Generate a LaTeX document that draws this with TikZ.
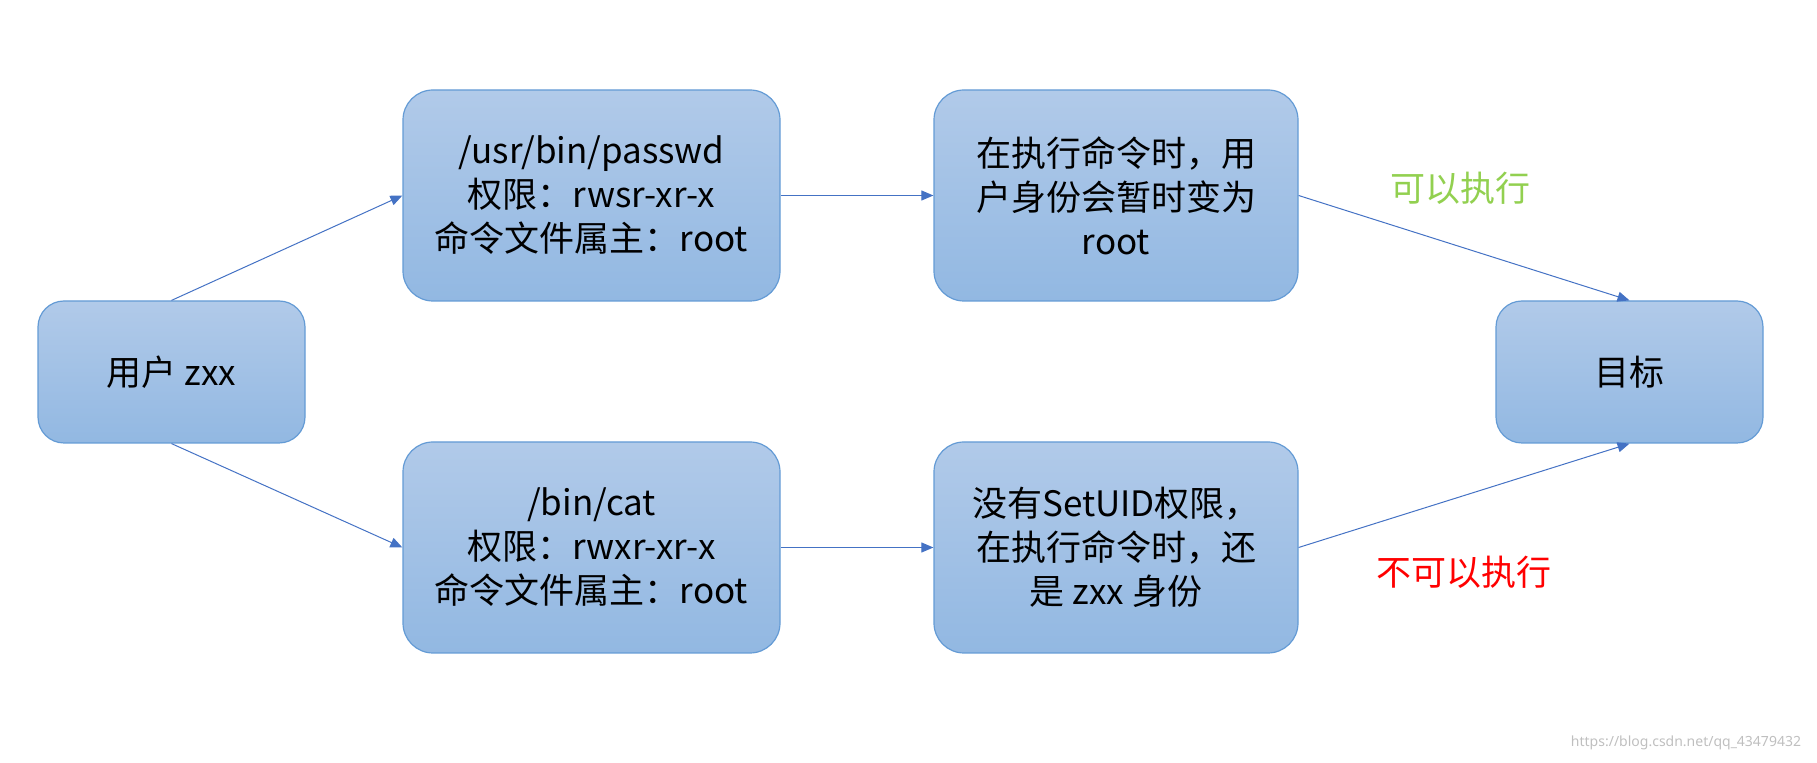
\documentclass[tikz,border=0pt]{standalone}
\usepackage{fontspec}
\setmainfont{Noto Sans CJK SC}
\usetikzlibrary{arrows.meta}
\definecolor{boxtop}{RGB}{177,202,233}
\definecolor{boxbot}{RGB}{146,184,226}
\definecolor{boxline}{RGB}{100,155,213}
\definecolor{arrowc}{RGB}{68,114,196}
\definecolor{okgreen}{RGB}{146,208,80}
\tikzset{
  box/.style={draw=boxline, line width=0.6pt, rounded corners=15pt, top color=boxtop, bottom color=boxbot,
    align=center, font=\fontsize{17.5}{22}\selectfont, inner sep=0pt},
  bigbox/.style={box, minimum width=188.5pt, minimum height=105.5pt},
  midbox/.style={box, minimum width=182pt, minimum height=105.5pt},
  smallbox/.style={box, minimum width=133.5pt, minimum height=71pt, rounded corners=13pt},
  conn/.style={draw=arrowc, line width=0.5pt, -{Triangle[length=6pt,width=5pt]}},
  lbl/.style={font=\fontsize{17.5}{22}\selectfont, inner sep=0pt}
}
\begin{document}
\begin{tikzpicture}[x=0.5pt,y=-0.5pt]
\useasboundingbox (0,0) rectangle (1817,763);
\node[smallbox] (user) at (171.5,372) {用户 zxx};
\node[bigbox] (passwd) at (591.5,195.5) {/usr/bin/passwd\\权限：rwsr-xr-x\\命令文件属主：root};
\node[bigbox] (cat) at (591.5,547.5) {/bin/cat\\权限：rwxr-xr-x\\命令文件属主：root};
\node[midbox] (exec1) at (1116,195.5) {在执行命令时，用\\户身份会暂时变为\\root};
\node[midbox] (exec2) at (1116,547.5) {没有SetUID权限，\\在执行命令时，还\\是 zxx 身份};
\node[smallbox] (target) at (1629.5,372) {目标};
\draw[conn] (user.north) -- (passwd.west);
\draw[conn] (user.south) -- (cat.west);
\draw[conn] (passwd.east) -- (exec1.west);
\draw[conn] (cat.east) -- (exec2.west);
\draw[conn] (exec1.east) -- (target.north);
\draw[conn] (exec2.east) -- (target.south);
\node[lbl, text=okgreen] (ok) at (1460,188) {可以执行};
\node[lbl, text=red] (notok) at (1464,572) {不可以执行};
\node[font=\fontsize{7}{8}\selectfont\fontspec{Noto Sans}, text=black!25, inner sep=0pt] (wm) at (1686,743) {https://blog.csdn.net/qq\_43479432};
\end{tikzpicture}
\end{document}
